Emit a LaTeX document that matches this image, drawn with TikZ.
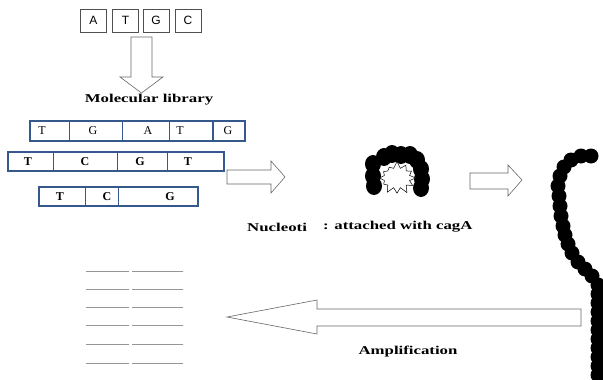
\documentclass[tikz,border=0pt]{standalone}
\usepackage{fontspec}
\setmainfont{Liberation Serif}
\newfontfamily\widefont[FakeStretch=1.4]{Liberation Serif}
\newfontfamily\basefont{Liberation Sans}
\usetikzlibrary{shapes.symbols}

\definecolor{strandblue}{RGB}{55,88,140}
\definecolor{boxgray}{RGB}{80,80,80}
\definecolor{dotgray}{RGB}{150,150,150}

\begin{document}
\begin{tikzpicture}[x=1pt, y=-1pt,
  base/.style={draw=boxgray, line width=0.6pt, minimum width=26pt, minimum height=23pt, inner sep=0pt, font=\basefont\fontsize{12}{12}\selectfont},
  strand/.style={draw=strandblue, line width=1.4pt},
  cut/.style={draw=strandblue, line width=0.7pt},
  letter/.style={inner sep=0pt, font=\fontsize{12}{12}\selectfont},
  bletter/.style={inner sep=0pt, font=\bfseries\fontsize{12}{12}\selectfont},
  caption/.style={inner sep=0pt, font=\widefont\bfseries\fontsize{12}{14}\selectfont},
  hollow/.style={draw=gray!80!black, line width=0.6pt, fill=white, line join=miter},
  bead/.style={fill=black},
  dots/.style={draw=dotgray, line width=0.9pt, dash pattern=on 0.35pt off 0.65pt}]
  \useasboundingbox (0,0) rectangle (603,380);
  \clip (0,0) rectangle (603,380);

  % bases
  \node[base] (a) at (93.5,20.5) {A};
  \node[base] (t) at (125.5,20.5) {T};
  \node[base] (g) at (156,20.5) {G};
  \node[base] (c) at (188,20.5) {C};
  \draw[hollow] (131,37) -- (152,37) -- (152,77) -- (163,77) -- (141.5,93) -- (120,77) -- (131,77) -- cycle;
  \node[caption] (lib) at (149,100) {Molecular library};

  % library strands
  \draw[strand] (30,121) rectangle (213,141) (213,121) rectangle (245,141);
  \foreach \x in {69,122,169} \draw[cut] (\x,121) -- (\x,141);
  \foreach \x/\l [count=\i] in {42/T,93/G,148/A,180/T,228/G}
    \node[letter] (sa\i) at (\x,131) {\l};

  \draw[strand] (8,152) rectangle (224,171);
  \foreach \x in {53,117,167} \draw[cut] (\x,152) -- (\x,171);
  \foreach \x/\l [count=\i] in {28/T,85/C,140/G,188/T}
    \node[bletter] (sb\i) at (\x,161.5) {\l};

  \draw[strand] (39,187) rectangle (198,206);
  \foreach \x in {85,118} \draw[cut] (\x,187) -- (\x,206);
  \foreach \x/\l [count=\i] in {60/T,107/C,170/G}
    \node[bletter] (sc\i) at (\x,196.5) {\l};

  \draw[hollow] (227,170) -- (271,170) -- (271,161) -- (285,177) -- (271,193) -- (271,184) -- (227,184) -- cycle;

  % nucleotide bound to cagA
  \foreach \p in {(373,164),(373,176),(374,186),(384,157),(392,154),(401,155),(410,155),(417,160),(421,169),(422,179),(421,188)}
    \fill[bead] \p circle[x radius=8pt, y radius=9pt];
  \node[starburst, random starburst=7, starburst points=12, starburst point height=7pt,
        draw, fill=white, line width=0.5pt, minimum width=40pt, minimum height=34pt, inner sep=0pt] (cag) at (397,178) {};
  \node[caption, anchor=west] (nuc) at (247,227) {Nucleoti};
  \node[caption, anchor=west] (att) at (323,227) {: attached with cagA};

  \draw[hollow] (470,173) -- (508,173) -- (508,165) -- (522,180) -- (508,196) -- (508,189) -- (470,189) -- cycle;

  % amplified chain
  \foreach \p in {(591,156),(581,156),(571,160),(564,167),(560,176),(558,186),(559,196),(560,206),(561,216),(563,226),(565,235),(568,244),(572,253),(578,262),(585,269),(592,276)}
    \fill[bead] \p circle[radius=7.5pt];
  \foreach \y in {285,294,...,380}
    \fill[bead] (598,\y) circle[radius=7.5pt];

  \draw[hollow] (581,309) -- (317,309) -- (317,300) -- (227,317) -- (317,334) -- (317,326) -- (581,326) -- cycle;
  \node[caption] (amp) at (408,352) {Amplification};

  % copies
  \foreach \y in {271,289,307,325,344,363} {
    \draw[dots] (86,\y) -- (129,\y);
    \draw[dots] (132,\y) -- (183,\y);
  }
\end{tikzpicture}
\end{document}
